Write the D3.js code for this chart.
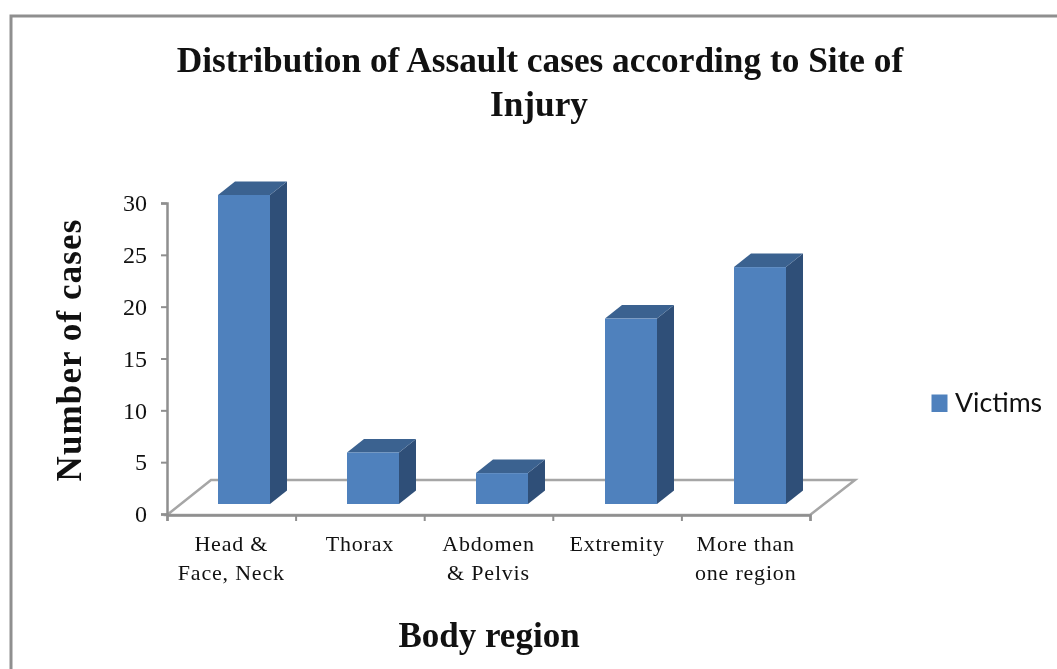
<!DOCTYPE html>
<html><head><meta charset="utf-8">
<script src="https://cdn.jsdelivr.net/npm/d3@7"></script>
<style>
html,body{margin:0;padding:0;background:#fff;overflow:hidden}
svg{display:block;filter:blur(0.45px)}
text{font-family:"Liberation Serif",serif;fill:#111}
</style></head><body>
<svg id="c" width="1057" height="669"></svg>
<script>
const categories=[["Head &","Face, Neck"],["Thorax"],["Abdomen","& Pelvis"],["Extremity"],["More than","one region"]];
const victims=[30,5,3,18,23];
const yTicks=[0,5,10,15,20,25,30];
const titleLines=["Distribution of Assault cases according to Site of","Injury"];
const seriesName="Victims";
const xTitle="Body region";
const yTitle="Number of cases";

const svg=d3.select("#c");
const grey="#8f8f8f",front="#4f81bd",top_="#3b6290",side="#2f4f78";

svg.append("path").attr("d","M1057,16H11V669").attr("fill","none").attr("stroke",grey).attr("stroke-width",3);

const x=d3.scaleBand().domain(d3.range(categories.length)).range([167,810]);
const xBar=d3.scaleBand().domain(d3.range(categories.length)).range([168,813]);
const yAxisScale=d3.scaleLinear().domain([0,30]).range([514,203]);
const yBar=d3.scaleLinear().domain([0,30]).range([504,195]);
const barW=52,dx=17,dy=13.5,barShift=11.5;

// floor
svg.append("path").attr("d","M167,515L211,480H855L810,515Z")
  .attr("fill","none").attr("stroke","#a6a6a6").attr("stroke-width",2.5);

// axes
const gy=svg.append("g").attr("transform","translate(167,0)")
  .call(d3.axisLeft(yAxisScale).tickValues(yTicks).tickSize(6).tickPadding(14));
const gx=svg.append("g").attr("transform","translate(0,515)")
  .call(d3.axisBottom(d3.scaleLinear().domain([0,categories.length]).range([167,810])).ticks(categories.length).tickSize(6).tickFormat(""));
[gy,gx].forEach(g=>{g.selectAll("path").attr("stroke",grey).attr("stroke-width",2.5);
  g.selectAll("line").attr("stroke",grey).attr("stroke-width",2);});
gy.selectAll("text").attr("font-size",24).attr("font-family","Liberation Serif").attr("fill","#111");

// bars
const bars=svg.append("g").selectAll("g").data(victims).join("g")
  .attr("transform",(d,i)=>`translate(${xBar(i)+xBar.bandwidth()/2+barShift-barW/2},0)`);
bars.append("path").attr("fill",side)
  .attr("d",d=>`M${barW},${yBar(d)}l${dx},${-dy}V${yBar(0)-dy}l${-dx},${dy}Z`);
bars.append("path").attr("fill",top_)
  .attr("d",d=>`M0,${yBar(d)}l${dx},${-dy}h${barW}l${-dx},${dy}Z`);
bars.append("rect").attr("fill",front)
  .attr("width",barW).attr("y",d=>yBar(d)).attr("height",d=>yBar(0)-yBar(d));

// category labels
svg.append("g").selectAll("text").data(categories).join("text")
  .attr("text-anchor","middle").attr("font-size",22).attr("letter-spacing",0.8)
  .attr("transform",(d,i)=>`translate(${x(i)+x.bandwidth()/2},0)`)
  .selectAll("tspan").data(d=>d).join("tspan")
  .attr("x",0).attr("y",(d,i)=>551+i*28.5).text(d=>d);

// title
svg.append("g").selectAll("text").data(titleLines).join("text")
  .attr("x",(d,i)=>i?539:540).attr("y",(d,i)=>72+i*44).attr("text-anchor","middle")
  .attr("font-size",35.3).attr("font-weight","bold").text(d=>d);

svg.append("text").attr("x",489).attr("y",647).attr("text-anchor","middle")
  .attr("font-size",35).attr("font-weight","bold").text(xTitle);
svg.append("text").attr("transform","translate(81,350) rotate(-90)").attr("text-anchor","middle")
  .attr("font-size",35).attr("letter-spacing",1.1).attr("font-weight","bold").text(yTitle);

// legend
svg.append("rect").attr("x",931.5).attr("y",394.5).attr("width",16).attr("height",17.5).attr("fill",front);
svg.append("text").attr("x",955).attr("y",412).attr("font-size",26.7)
  .style("font-family","Lato").text(seriesName);
</script></body></html>
